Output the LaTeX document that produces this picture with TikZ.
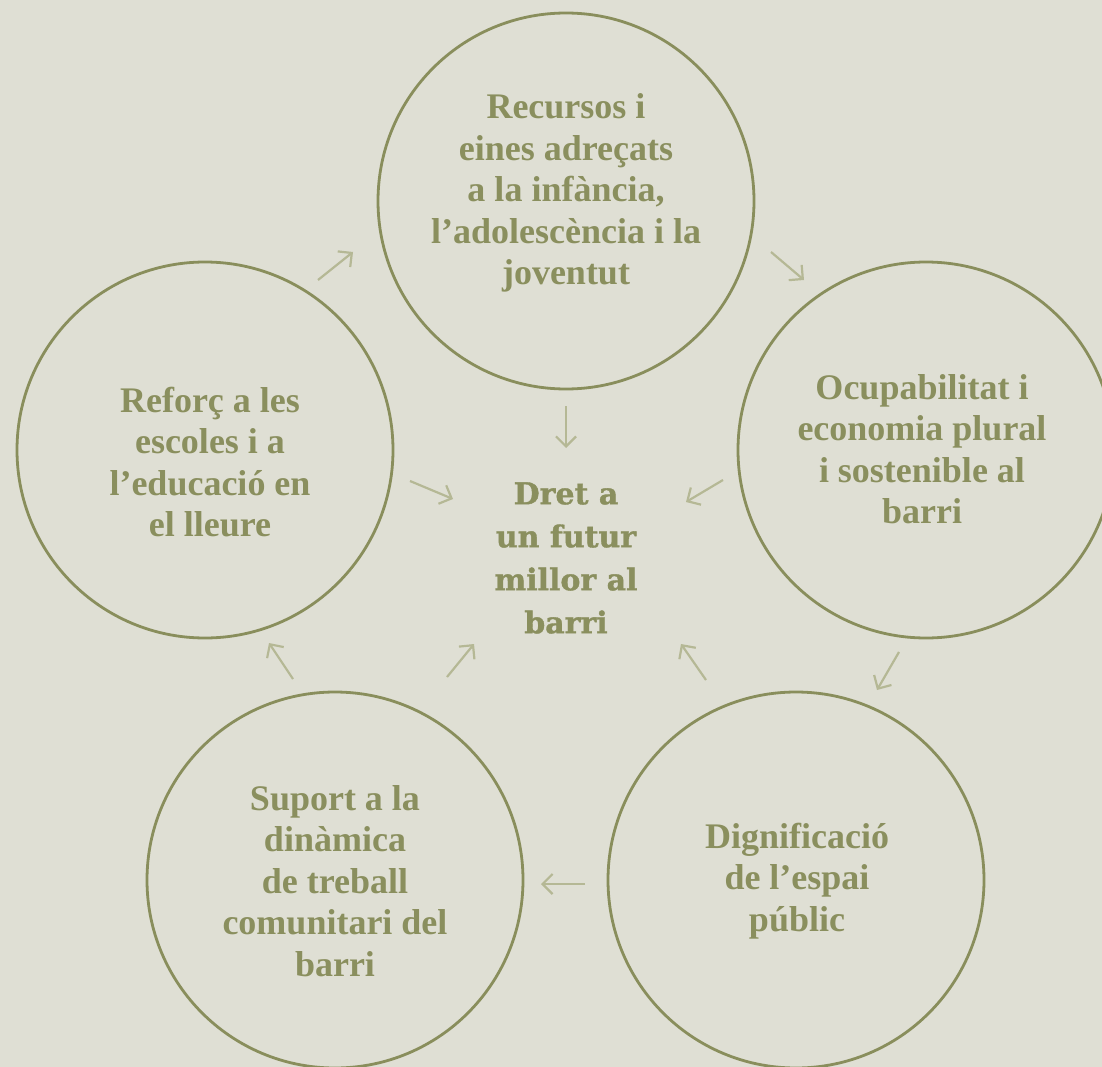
\documentclass[tikz,border=0pt]{standalone}
\usepackage{fontspec}
\setmainfont{Liberation Serif}
\newfontfamily\centrefont{DejaVu Serif}[BoldFeatures={FakeBold=1.2}]
\usetikzlibrary{arrows.meta}
\definecolor{bgc}{HTML}{DFDFD4}
\definecolor{ringc}{HTML}{898E5C}
\definecolor{txtc}{HTML}{8A8F5E}
\definecolor{arrc}{HTML}{B5B895}
\tikzset{
  ring/.style={draw=ringc, line width=2.8pt, circle, minimum size=376pt, inner sep=0pt},
  ringtext/.style={text=txtc, align=center, font=\bfseries\fontsize{36}{41.5}\selectfont},
  centretext/.style={text=txtc, align=center, font=\centrefont\bfseries\fontsize{30}{43}\selectfont},
  flow/.style={draw=arrc, line width=2.2pt, -{Straight Barb[length=10pt,width=20pt,line width=2.2pt]}}
}
\begin{document}
\begin{tikzpicture}[x=1pt,y=-1pt]
\useasboundingbox (0,0) rectangle (1102,1067);
\fill[bgc] (0,0) rectangle (1102,1067);
\clip (0,0) rectangle (1102,1067);
% circles
\node[ring] (top) at (566,201) {};
\node[ring] (right) at (926,450) {};
\node[ring] (left) at (205,450) {};
\node[ring] (bl) at (335,880) {};
\node[ring] (br) at (796,880) {};
% texts
\node[ringtext] (ttop) at (566,193) {Recursos i\\eines adreçats\\a la infància,\\l’adolescència i la\\joventut};
\node[ringtext] (tleft) at (210,462) {Reforç a les\\escoles i a\\l’educació en\\el lleure};
\node[ringtext] (tright) at (922,449) {Ocupabilitat i\\economia plural\\i sostenible al\\barri};
\node[ringtext] (tbl) at (335,881) {Suport a la\\dinàmica\\de treball\\comunitari del\\barri};
\node[ringtext] (tbr) at (797,881) {Dignificació\\de l’espai\\públic};
\node[centretext] (centre) at (566,558) {Dret a\\un futur\\millor al\\barri};
% arrows between circles
\coordinate (a1s) at (318,280); \coordinate (a1e) at (353,252);
\coordinate (a2s) at (771,252); \coordinate (a2e) at (804,280);
\coordinate (a3s) at (899,652); \coordinate (a3e) at (877,690);
\coordinate (a4s) at (585,884); \coordinate (a4e) at (541,884);
\coordinate (a5s) at (293,679); \coordinate (a5e) at (269,643);
\draw[flow] (a1s) -- (a1e);
\draw[flow] (a2s) -- (a2e);
\draw[flow] (a3s) -- (a3e);
\draw[flow] (a4s) -- (a4e);
\draw[flow] (a5s) -- (a5e);
% arrows to centre
\coordinate (c1s) at (566,406); \coordinate (c1e) at (566,448);
\coordinate (c2s) at (723,480); \coordinate (c2e) at (686,502);
\coordinate (c3s) at (410,481); \coordinate (c3e) at (453,499);
\coordinate (c4s) at (447,677); \coordinate (c4e) at (474,644);
\coordinate (c5s) at (706,680); \coordinate (c5e) at (681,644);
\draw[flow] (c1s) -- (c1e);
\draw[flow] (c2s) -- (c2e);
\draw[flow] (c3s) -- (c3e);
\draw[flow] (c4s) -- (c4e);
\draw[flow] (c5s) -- (c5e);
\end{tikzpicture}
\end{document}
